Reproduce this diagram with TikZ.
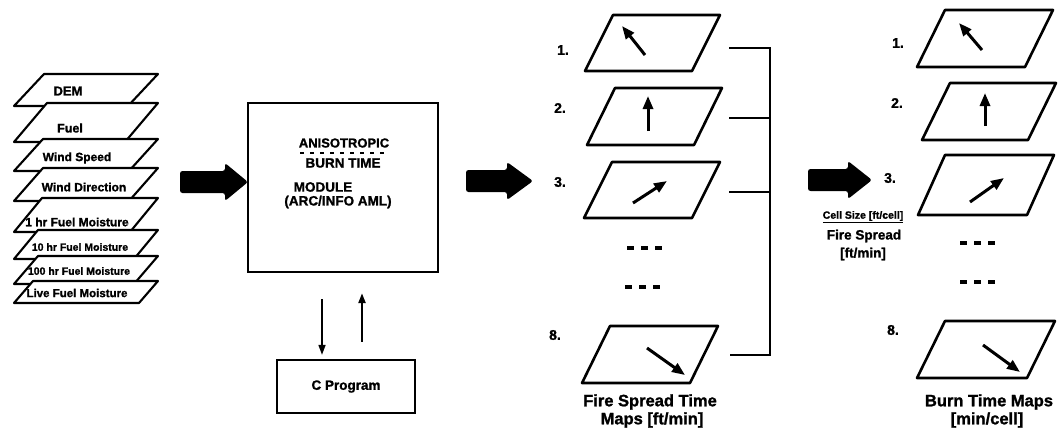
\documentclass[tikz,border=0pt]{standalone}
\usepackage{fontspec}
\setmainfont{Liberation Sans}[BoldFeatures={FakeBold=1.3}]
\usetikzlibrary{arrows.meta,calc}

% bold text at a given size (pt)
\newcommand\fs[1]{\fontsize{#1}{#1}\selectfont\bfseries}

% input layer: top y, bottom y, slant
\newcommand\layerpoly[3]{%
  \path[layer] (14,#2) -- (14+#3,#1) -- (158,#1) -- (158-#3,#2) -- cycle;}

% map sheet: bottom-left x, bottom y, top y, slant, width
\newcommand\sheet[5]{%
  \path[sheetline] (#1,#2) -- (#1+#4,#3) -- (#1+#4+#5,#3) -- (#1+#5,#2) -- cycle;}

% block arrow: start x, head base x, tip x, centre y
\newcommand\blockarrow[4]{%
  \fill[blockarrow] (#1,#4-11) -- (#2,#4-11) -- (#2,#4-19) -- (#3,#4)
    -- (#2,#4+19) -- (#2,#4+11) -- (#1,#4+11) -- cycle;}

\begin{document}
\begin{tikzpicture}[x=1pt,y=-1pt,
  layer/.style={draw=black, line width=2.1pt, fill=white, line join=round},
  sheetline/.style={draw=black, line width=2.6pt, fill=white, line join=round},
  blockarrow/.style={rounded corners=2.5pt},
  dirarrow/.style={line width=3pt, -{Triangle[length=13pt,width=10pt]}},
  link/.style={line width=1.6pt, -{Triangle[length=10pt,width=7pt]}},
  box/.style={draw=black, line width=2.3pt, fill=white, inner sep=0pt},
  txt/.style={inner sep=0pt},
  num/.style={inner sep=0pt, font=\fs{14}},
  dots/.style={line width=3.2pt, dash pattern=on 7pt off 7pt},
  bracket/.style={line width=2.3pt}
]
\useasboundingbox[fill=white] (0,0) rectangle (1059,434);

% ---------- input layers ----------
\layerpoly{74}{106}{30}
\node[txt, font=\fs{13}] (dem) at (68,91) {DEM};
\layerpoly{103}{142}{33}
\node[txt, font=\fs{12.5}] (fuel) at (70,128) {Fuel};
\layerpoly{139}{171}{29}
\node[txt, font=\fs{12}] (wspd) at (77,158) {Wind Speed};
\layerpoly{168}{201}{29}
\node[txt, font=\fs{12}] (wdir) at (84,187) {Wind Direction};
\layerpoly{198}{232}{28}
\node[txt, font=\fs{12}] (fm1) at (77,222) {1 hr Fuel Moisture};
\layerpoly{230}{259}{24}
\node[txt, font=\fs{10.5}] (fm10) at (80,247) {10 hr Fuel Moisture};
\layerpoly{256}{284}{24}
\node[txt, font=\fs{10.5}] (fm100) at (79,271) {100 hr Fuel Moisture};
\layerpoly{281}{303}{19}
\node[txt, font=\fs{11.5}] (live) at (77,293) {Live Fuel Moisture};

% ---------- block arrows ----------
\blockarrow{180}{225}{248}{182}
\blockarrow{466}{507}{533}{181}
\blockarrow{808}{848}{872}{180}

% ---------- module ----------
\node[box, minimum width=190pt, minimum height=169pt] (module) at (343,187.5) {};
\node[txt, font=\fs{13}] (aniso) at (344,143) {ANISOTROPIC};
\draw[line width=2pt, dash pattern=on 4pt off 6pt] (300,153) -- (384,153);
\node[txt, font=\fs{13.5}] (burn) at (343,163) {BURN TIME};
\node[txt, font=\fs{13.5}] (modl) at (323,187) {MODULE};
\node[txt, font=\fs{13.5}] (aml) at (338,202) {(ARC/INFO AML)};

\node[box, minimum width=138pt, minimum height=53pt, font=\fs{13.5}] (cprog) at (346,386.5) {C Program};

\coordinate (dn) at ([xshift=-21pt]module.south);
\coordinate (up) at ([xshift=19pt]module.south);
\draw[link, shorten <=26pt, shorten >=4pt] (dn) -- (dn |- cprog.north);
\draw[link, line width=2.2pt, shorten <=17pt, shorten >=20pt] (up |- cprog.north) -- (up);

% ---------- fire spread time maps ----------
\sheet{585}{71}{15}{28}{107}
\sheet{587}{145}{88}{28}{107}
\sheet{584}{218}{162}{28}{108}
\sheet{582}{383}{326}{28}{108}
\draw[dirarrow] (645,55) -- (622,26);
\draw[dirarrow] (648,131) -- (648,96);
\draw[dirarrow] (633,203) -- (667,181);
\draw[dirarrow] (647,348) -- (685,375);
\node[num] (a1) at (563,50) {1.};
\node[num] (a2) at (560,108) {2.};
\node[num] (a3) at (560,182) {3.};
\node[num] (a8) at (555,335) {8.};
\draw[dots] (627,248) -- (662,248);
\draw[dots] (625,287) -- (660,287);
\node[txt, font=\fs{16.5}] (capa) at (650,402) {Fire Spread Time};
\node[txt, font=\fs{16.5}] (capb) at (652,420) {Maps [ft/min]};

% bracket joining the maps
\coordinate (m1) at (729,48);
\coordinate (m2) at (729,118);
\coordinate (m3) at (729,192);
\coordinate (m8) at (730,355);
\coordinate (spine) at (770,0);
\draw[bracket] (m1) -- (m1 -| spine) -- (m8 -| spine) -- (m8);
\draw[bracket] (m2) -- (m2 -| spine);
\draw[bracket] (m3) -- (m3 -| spine);

% conversion note
\node[txt, font=\fs{10.5}] (cell) at (863,217) {\underline{Cell Size [ft/cell]}};
\node[txt, font=\fs{13.5}] (spread) at (864,236) {Fire Spread};
\node[txt, font=\fs{13.5}] (unit) at (863,254) {[ft/min]};

% ---------- burn time maps ----------
\sheet{917}{67}{10}{28}{108}
\sheet{922}{140}{83}{28}{106}
\sheet{918}{215}{155}{27}{109}
\sheet{917}{378}{321}{28}{110}
\draw[dirarrow] (982,50) -- (959,23);
\draw[dirarrow] (985,126) -- (985,93);
\draw[dirarrow] (970,202) -- (1004,178);
\draw[dirarrow] (983,345) -- (1020,372);
\node[num] (b1) at (898,43) {1.};
\node[num] (b2) at (897,103) {2.};
\node[num] (b3) at (890,178) {3.};
\node[num] (b8) at (893,330) {8.};
\draw[dots] (960,243) -- (995,243);
\draw[dots] (960,282) -- (995,282);
\node[txt, font=\fs{16.5}] (capc) at (989,402) {Burn Time Maps};
\node[txt, font=\fs{16.5}] (capd) at (987,420) {[min/cell]};
\end{tikzpicture}
\end{document}
